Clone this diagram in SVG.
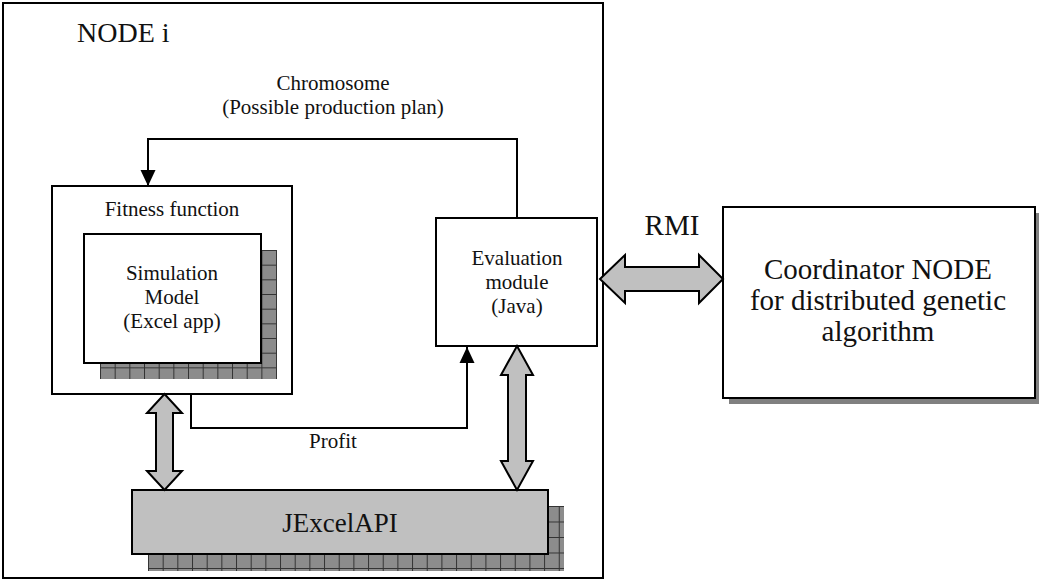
<svg xmlns="http://www.w3.org/2000/svg" width="1039" height="581" viewBox="0 0 1039 581" font-family="'Liberation Serif', 'Times New Roman', Times, 'Nimbus Roman', serif">
<defs>
<style>
.box{fill:#fff;stroke:#000;stroke-width:2}
.t{fill:#111;text-anchor:middle}
.s{font-size:21px}
.b{font-size:28px}
.line{fill:none;stroke:#000;stroke-width:2}
.dbl{fill:#c0c0c0;stroke:#000;stroke-width:2;stroke-linejoin:miter}
</style>
<pattern id="gridA" patternUnits="userSpaceOnUse" x="100" y="250" width="14.67" height="14.67">
<rect width="14.67" height="14.67" fill="#8c8c8c"/>
<path d="M0,0.5 H14.67 M0.5,0 V14.67" stroke="#333" stroke-width="1"/>
</pattern>
<pattern id="gridB" patternUnits="userSpaceOnUse" x="148" y="506" width="14.67" height="15.5">
<rect width="14.67" height="15.5" fill="#8c8c8c"/>
<path d="M0,0.5 H14.67 M0.5,0 V15.5" stroke="#333" stroke-width="1"/>
</pattern>
<marker id="ah" viewBox="0 0 16 16" refX="16" refY="8" markerWidth="16" markerHeight="16" markerUnits="userSpaceOnUse" orient="auto">
<path d="M0,0.5 L16,8 L0,15.5 Z" fill="#000"/>
</marker>
</defs>
<rect width="1039" height="581" fill="#fff"/>

<g id="node-i">
<rect x="3" y="3" width="600" height="575" class="box"/>
<text x="77" y="42" class="t b" style="text-anchor:start">NODE i</text>
</g>

<g id="fitness-function">
<rect x="52" y="186" width="240" height="208" class="box"/>
<text x="172" y="216" class="t s">Fitness function</text>
</g>

<g id="simulation-model">
<rect x="100" y="250" width="177" height="129" fill="url(#gridA)"/>
<rect x="84" y="234" width="177" height="129" class="box"/>
<text x="172" y="280" class="t s">Simulation</text>
<text x="172" y="304" class="t s">Model</text>
<text x="172" y="328" class="t s">(Excel app)</text>
</g>

<g id="evaluation-module">
<rect x="436" y="218" width="161" height="128" class="box"/>
<text x="517" y="265" class="t s">Evaluation</text>
<text x="517" y="289" class="t s">module</text>
<text x="517" y="313" class="t s">(Java)</text>
</g>

<g id="jexcelapi">
<rect x="148" y="506" width="416" height="65" fill="url(#gridB)"/>
<rect x="132" y="490" width="416" height="64" fill="#c0c0c0" stroke="#000" stroke-width="2"/>
<text x="340" y="532" class="t" style="font-size:27px">JExcelAPI</text>
</g>

<g id="coordinator">
<rect x="729" y="213" width="312" height="191" fill="#808080"/>
<rect x="723" y="207" width="312" height="191" class="box"/>
<text x="878" y="279" class="t" style="font-size:29px">Coordinator NODE</text>
<text x="878" y="310" class="t" style="font-size:29px">for distributed genetic</text>
<text x="878" y="341" class="t" style="font-size:29px">algorithm</text>
</g>

<g id="connectors">
<path d="M517,218 V139 H148 V186" class="line" marker-end="url(#ah)"/>
<text x="333" y="90" class="t s">Chromosome</text>
<text x="333" y="114" class="t s">(Possible production plan)</text>
<path d="M191,394 V428 H467 V347" class="line" marker-end="url(#ah)"/>
<text x="333" y="448" class="t s">Profit</text>
<polygon class="dbl" points="164.5,394 182,413 173,413 173,471 182,471 164.5,490 147,471 156,471 156,413 147,413"/>
<polygon class="dbl" points="517,346 533,375 526,375 526,461 533,461 517,490 501,461 508,461 508,375 501,375"/>
<polygon class="dbl" points="600,279 625,255 625,267 699,267 699,255 723,279 699,303 699,291 625,291 625,303"/>
<text x="672" y="235" class="t" style="font-size:29px">RMI</text>
</g>
</svg>
